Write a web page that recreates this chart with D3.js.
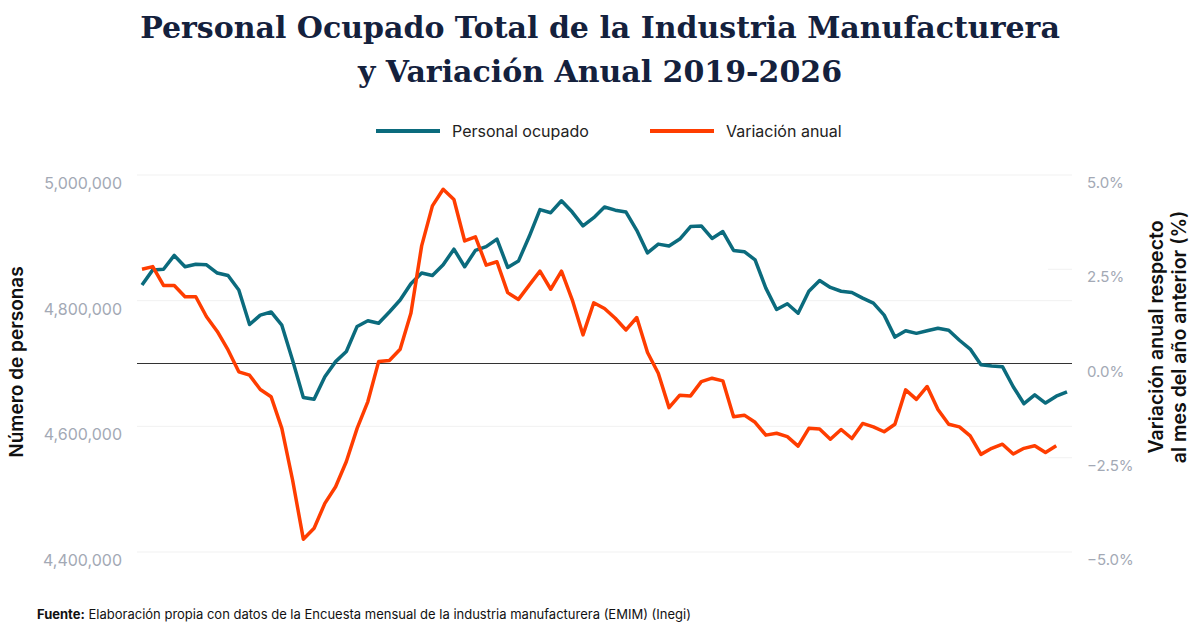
<!DOCTYPE html>
<html>
<head>
<meta charset="utf-8">
<script src="https://cdn.jsdelivr.net/npm/d3@7"></script>
<style>
  body { margin: 0; background: #fff; }
  text { font-family: Inter, "Open Sans", sans-serif; }
  text.title { font-family: "DejaVu Serif", "Liberation Serif", serif; }
</style>
</head>
<body>
<svg width="1200" height="630"></svg>
<script>
const personal = [
  4825, 4849, 4850, 4872, 4854, 4858, 4857, 4844, 4840, 4817,
  4762, 4777, 4782, 4761, 4705, 4646, 4643, 4679, 4703, 4719,
  4759, 4768, 4764, 4782, 4801, 4827, 4844, 4840, 4857, 4882,
  4854, 4880, 4886, 4898, 4853, 4863, 4902, 4945, 4940, 4959,
  4941, 4919, 4932, 4949, 4944, 4941, 4912, 4876, 4890, 4887,
  4898, 4918, 4919, 4899, 4910, 4880, 4878, 4865, 4820, 4786,
  4795, 4780, 4815, 4832, 4821, 4815, 4813, 4804, 4796, 4777,
  4742, 4752, 4748, 4752, 4756, 4753, 4737, 4723, 4698, 4696,
  4695, 4663, 4636, 4650, 4637, 4648, 4655
].map(d => d * 1000);

const variacion = [
  2.50, 2.57, 2.07, 2.07, 1.77, 1.77, 1.24, 0.85, 0.36, -0.22,
  -0.31, -0.69, -0.88, -1.72, -3.09, -4.66, -4.37, -3.71, -3.27, -2.60,
  -1.72, -1.01, 0.05, 0.08, 0.38, 1.33, 3.12, 4.18, 4.62, 4.35,
  3.25, 3.36, 2.61, 2.70, 1.88, 1.70, 2.08, 2.45, 1.97, 2.45,
  1.69, 0.76, 1.61, 1.46, 1.20, 0.89, 1.22, 0.29, -0.26, -1.17,
  -0.84, -0.86, -0.48, -0.39, -0.46, -1.41, -1.37, -1.56, -1.90, -1.85,
  -1.94, -2.19, -1.72, -1.74, -2.01, -1.75, -1.99, -1.59, -1.68, -1.81,
  -1.61, -0.70, -0.95, -0.61, -1.22, -1.61, -1.68, -1.92, -2.41, -2.25,
  -2.14, -2.40, -2.25, -2.18, -2.36, -2.18
];

const leftTicks = [4400000, 4600000, 4800000, 5000000];
const rightTicks = [-5, -2.5, 0, 2.5, 5];

const svg = d3.select("svg");
const teal = "#0b6b7d", orange = "#ff3d00", grey = "#a3a9b5";

const x = d3.scaleLinear().domain([0, personal.length - 1]).range([142, 1067]);
const yL = d3.scaleLinear().domain([4400000, 5000000]).range([552, 175]);
const yR = d3.scaleLinear().domain([-5, 5]).range([552, 175]);

// grid
svg.append("g").selectAll("line").data(leftTicks).join("line")
  .attr("x1", 137).attr("x2", 1072)
  .attr("y1", d => yL(d)).attr("y2", d => yL(d))
  .attr("stroke", "#f1f1f1");
svg.append("g").selectAll("line").data([-2.5, 2.5]).join("line")
  .attr("x1", 1048).attr("x2", 1072)
  .attr("y1", d => yR(d)).attr("y2", d => yR(d))
  .attr("stroke", "#f1f1f1");
svg.append("line").attr("x1", 137).attr("x2", 1072)
  .attr("y1", yL(4700000)).attr("y2", yL(4700000))
  .attr("stroke", "#333").attr("stroke-width", 1.2);

// axes labels
svg.append("g").selectAll("text").data(leftTicks).join("text")
  .attr("x", 122).attr("y", d => yL(d) + 14).attr("text-anchor", "end")
  .attr("font-size", 16).attr("fill", grey)
  .text(d3.format(","));
svg.append("g").selectAll("text").data(rightTicks).join("text")
  .attr("x", 1087).attr("y", d => yR(d) + 13)
  .attr("font-size", 15).attr("fill", grey)
  .text(d => (d < 0 ? "\u2212" : "") + Math.abs(d).toFixed(1) + "%");

// lines
const lineP = d3.line().x((d, i) => x(i)).y(d => yL(d));
const lineV = d3.line().x((d, i) => x(i)).y(d => yR(d));
svg.append("path").datum(personal).attr("d", lineP)
  .attr("fill", "none").attr("stroke", teal).attr("stroke-width", 3.5).attr("stroke-linejoin", "round");
svg.append("path").datum(variacion).attr("d", lineV)
  .attr("fill", "none").attr("stroke", orange).attr("stroke-width", 3.5).attr("stroke-linejoin", "round");

// title
const title = svg.append("text").attr("class", "title").attr("text-anchor", "middle")
  .attr("font-weight", "bold").attr("font-size", 30).attr("fill", "#14213d");
title.append("tspan").attr("x", 600).attr("y", 38).text("Personal Ocupado Total de la Industria Manufacturera");
title.append("tspan").attr("x", 600).attr("y", 82).text("y Variación Anual 2019-2026");

// legend
const legend = [
  {label: "Personal ocupado", color: teal, x: 376},
  {label: "Variación anual", color: orange, x: 650}
];
const lg = svg.append("g").selectAll("g").data(legend).join("g");
lg.append("line").attr("x1", d => d.x).attr("x2", d => d.x + 64)
  .attr("y1", 131).attr("y2", 131).attr("stroke", d => d.color).attr("stroke-width", 4);
lg.append("text").attr("x", d => d.x + 76).attr("y", 137)
  .attr("font-size", 16).attr("fill", "#222").text(d => d.label);

// axis titles
svg.append("text").attr("transform", "translate(23,362) rotate(-90)")
  .attr("text-anchor", "middle").attr("font-size", 19).attr("font-weight", 600)
  .attr("fill", "#111").text("Número de personas");
const rt = svg.append("text").attr("transform", "translate(1163,337) rotate(-90)")
  .attr("text-anchor", "middle").attr("font-size", 19.5).attr("font-weight", 600).attr("fill", "#111");
rt.append("tspan").attr("x", 0).attr("y", 0).text("Variación anual respecto");
rt.append("tspan").attr("x", 0).attr("y", 23).text("al mes del año anterior (%)");

// source
const src = svg.append("text").attr("x", 37).attr("y", 619).attr("font-size", 13).attr("fill", "#111");
src.append("tspan").attr("font-weight", "bold").text("Fuente:");
src.append("tspan").text(" Elaboración propia con datos de la Encuesta mensual de la industria manufacturera (EMIM) (Inegi)");
</script>
</body>
</html>
